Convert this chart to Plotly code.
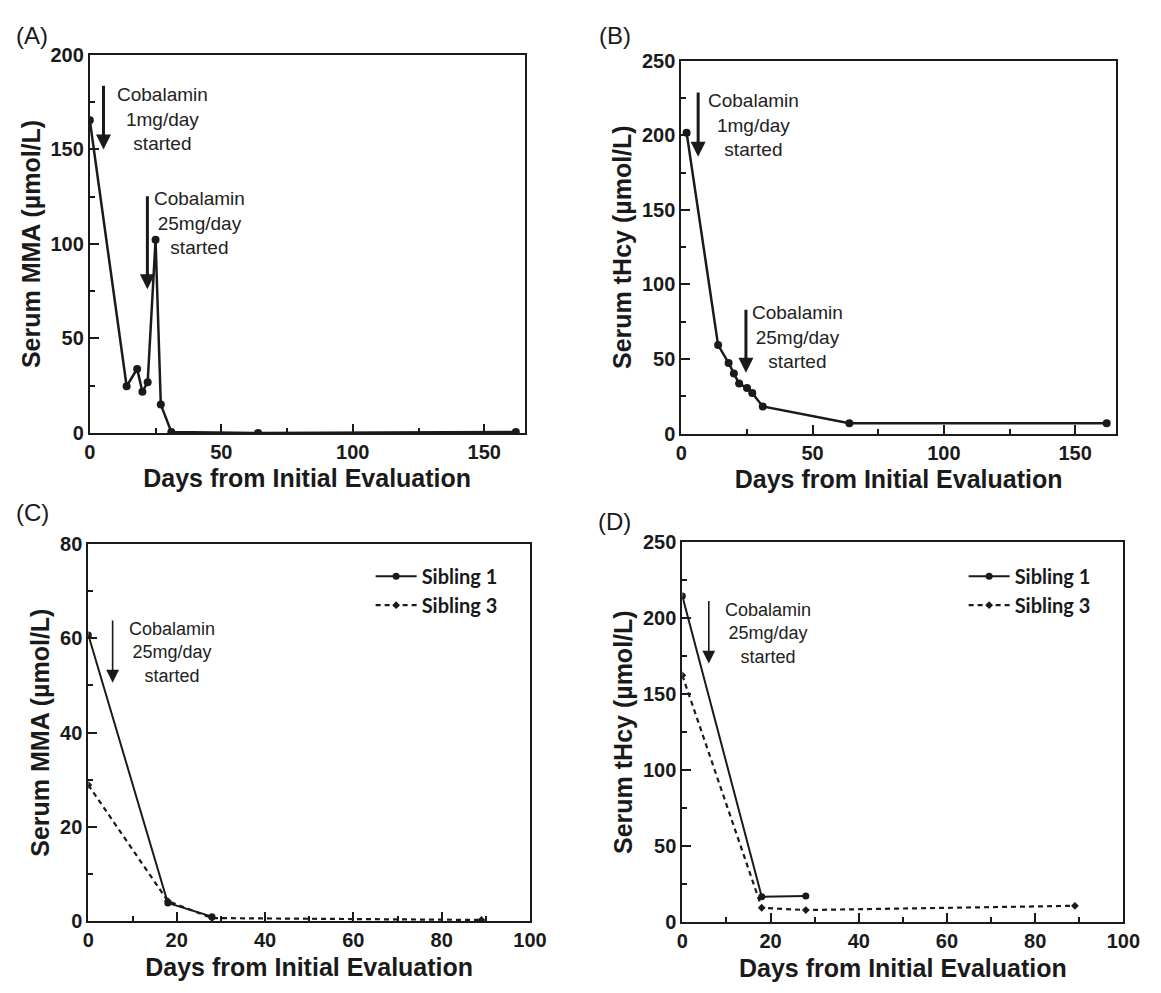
import plotly.graph_objects as go

# ---------------- data ----------------
# Panel A: serum MMA (umol/L), patient
a_days = [0, 14, 18, 20, 22, 25, 27, 31, 64, 162]
a_mma = [165.5, 24.7, 33.9, 21.8, 26.8, 102.2, 15.0, 0.5, 0.0, 0.5]

# Panel B: serum tHcy (umol/L), patient
b_days = [2, 14, 18, 20, 22, 25, 27, 31, 64, 162]
b_thcy = [201.7, 59.4, 47.4, 40.4, 33.6, 30.6, 27.3, 18.3, 7.0, 7.0]

# Panel C: serum MMA, siblings
c_days_s1 = [0, 18, 28]
c_mma_s1 = [60.7, 3.9, 1.0]
c_days_s3 = [0, 18, 28, 89]
c_mma_s3 = [28.9, 4.3, 0.7, 0.3]

# Panel D: serum tHcy, siblings
d_days_s1 = [0, 18, 28]
d_thcy_s1 = [214.6, 16.7, 17.2]
d_days_s3 = [0, 18, 28, 89]
d_thcy_s3 = [162.4, 9.4, 7.9, 10.7]

series_names = ["Sibling 1", "Sibling 3"]
panel_labels = ["(A)", "(B)", "(C)", "(D)"]
x_title = "Days from Initial Evaluation"
y_titles = ["Serum MMA (\u00b5mol/L)", "Serum tHcy (\u00b5mol/L)",
            "Serum MMA (\u00b5mol/L)", "Serum tHcy (\u00b5mol/L)"]

# treatment annotations: (panel, day, arrow top value, arrow tip value, text, text day, text value)
events = [
    (1, 5.2, 184.5, 150.0, "Cobalamin<br>1mg/day<br>started", 27.5, 166.3),
    (1, 21.9, 126.0, 76.0, "Cobalamin<br>25mg/day<br>started", 41.7, 111.0),
    (2, 6.4, 229.7, 185.6, "Cobalamin<br>1mg/day<br>started", 27.3, 206.8),
    (2, 24.6, 84.0, 40.8, "Cobalamin<br>25mg/day<br>started", 44.4, 64.8),
    (3, 5.5, 64.1, 50.6, "Cobalamin<br>25mg/day<br>started", 18.9, 56.9),
    (4, 6.0, 212.4, 170.2, "Cobalamin<br>25mg/day<br>started", 19.4, 189.9),
]

# ---------------- style ----------------
W, H = 1161, 993
INK = "#1a1a1a"
FONT = "Arial, Liberation Sans, Helvetica, sans-serif"
TICKFONT = dict(family=FONT, size=20, color=INK, weight="bold")
TITLEFONT = dict(family=FONT, size=25, color=INK, weight="bold")
LEGFONT = dict(family="Lato, Open Sans, sans-serif", size=20, color=INK, weight="bold")


def px_dom(a, b, total, flip=False):
    if flip:
        return [1 - b / total, 1 - a / total]
    return [a / total, b / total]


def xaxis(domain, rng, dtick, mdtick, anchor):
    return dict(domain=domain, range=rng, dtick=dtick, tick0=0,
                ticks="inside", ticklen=9, tickwidth=2, tickcolor=INK,
                minor=dict(ticks="inside", dtick=mdtick, tick0=0, ticklen=5,
                           tickwidth=2, tickcolor=INK),
                showline=True, linewidth=2, linecolor=INK, mirror=True,
                showgrid=False, zeroline=False, tickfont=TICKFONT,
                title=dict(text=x_title, font=TITLEFONT, standoff=8),
                anchor=anchor, fixedrange=True)


def yaxis(domain, rng, dtick, mdtick, anchor, title):
    return dict(domain=domain, range=rng, dtick=dtick, tick0=0,
                ticks="inside", ticklen=9, tickwidth=2, tickcolor=INK,
                minor=dict(ticks="inside", dtick=mdtick, tick0=0, ticklen=5,
                           tickwidth=2, tickcolor=INK),
                showline=True, linewidth=2, linecolor=INK, mirror=True,
                showgrid=False, zeroline=False, tickfont=TICKFONT,
                title=dict(text=title, font=TITLEFONT, standoff=3),
                anchor=anchor, fixedrange=True)


fig = go.Figure()

fig.add_trace(go.Scatter(x=a_days, y=a_mma, mode="lines+markers", xaxis="x", yaxis="y",
                         line=dict(color=INK, width=2.5), marker=dict(size=8, color=INK),
                         showlegend=False))
fig.add_trace(go.Scatter(x=b_days, y=b_thcy, mode="lines+markers", xaxis="x2", yaxis="y2",
                         line=dict(color=INK, width=2.5), marker=dict(size=8, color=INK),
                         showlegend=False))

fig.add_trace(go.Scatter(x=c_days_s1, y=c_mma_s1, mode="lines+markers", xaxis="x3", yaxis="y3",
                         name=series_names[0], legend="legend",
                         line=dict(color=INK, width=2), marker=dict(size=7, color=INK, symbol="circle")))
fig.add_trace(go.Scatter(x=c_days_s3, y=c_mma_s3, mode="lines+markers", xaxis="x3", yaxis="y3",
                         name=series_names[1], legend="legend",
                         line=dict(color=INK, width=2.2, dash="5px,4px"),
                         marker=dict(size=6, color=INK, symbol="diamond")))

fig.add_trace(go.Scatter(x=d_days_s1, y=d_thcy_s1, mode="lines+markers", xaxis="x4", yaxis="y4",
                         name=series_names[0], legend="legend2",
                         line=dict(color=INK, width=2), marker=dict(size=7, color=INK, symbol="circle")))
fig.add_trace(go.Scatter(x=d_days_s3, y=d_thcy_s3, mode="lines+markers", xaxis="x4", yaxis="y4",
                         name=series_names[1], legend="legend2",
                         line=dict(color=INK, width=2.2, dash="5px,4px"),
                         marker=dict(size=6, color=INK, symbol="diamond")))

annotations = []
for (p, xd, ytop, ytip, txt, tx, ty) in events:
    sfx = "" if p == 1 else str(p)
    thick = p in (1, 2)
    annotations.append(dict(x=xd, y=ytip, ax=xd, ay=ytop, xref="x" + sfx, yref="y" + sfx,
                            axref="x" + sfx, ayref="y" + sfx, text="", showarrow=True,
                            arrowhead=2, arrowsize=1.0 if thick else 1.6,
                            arrowwidth=3 if thick else 1.6, arrowcolor=INK, standoff=0))
    annotations.append(dict(x=tx, y=ty, xref="x" + sfx, yref="y" + sfx, text=txt, showarrow=False,
                            xanchor="center", yanchor="middle", align="center",
                            font=dict(family=FONT, size=19 if thick else 18, color="#222222")))

label_pos = [(27, 25), (621, 25), (27, 513), (621, 522)]
for lab, (lx, ly) in zip(panel_labels, label_pos):
    annotations.append(dict(x=lx / W, y=1 - ly / H, xref="paper", yref="paper", text=lab,
                            showarrow=False, xanchor="center", yanchor="middle",
                            font=dict(family=FONT, size=24, color=INK)))

fig.update_layout(
    width=W, height=H,
    margin=dict(l=0, r=0, t=0, b=0),
    paper_bgcolor="white", plot_bgcolor="white",
    xaxis=xaxis(px_dom(85.5, 529, W), [0, 165.3], 50, 25, "y"),
    yaxis=yaxis(px_dom(45, 431.5, H, True), [0, 200], 50, 25, "x", y_titles[0]),
    xaxis2=xaxis(px_dom(689, 1132.3, W), [0, 165.5], 50, 25, "y2"),
    yaxis2=yaxis(px_dom(50.7, 432.3, H, True), [0, 250], 50, 25, "x2", y_titles[1]),
    xaxis3=xaxis(px_dom(84, 534.6, W), [0, 100], 20, 10, "y3"),
    yaxis3=yaxis(px_dom(545, 931, H, True), [0, 80], 20, 10, "x3", y_titles[2]),
    xaxis4=xaxis(px_dom(690, 1140, W), [0, 100], 20, 10, "y4"),
    yaxis4=yaxis(px_dom(543.3, 931.7, H, True), [0, 250], 50, 25, "x4", y_titles[3]),
    legend=dict(x=372 / W, y=1 - 558 / H, xanchor="left", yanchor="top", font=LEGFONT,
                bgcolor="rgba(0,0,0,0)", itemwidth=41, tracegroupgap=0),
    legend2=dict(x=977 / W, y=1 - 558 / H, xanchor="left", yanchor="top", font=LEGFONT,
                 bgcolor="rgba(0,0,0,0)", itemwidth=41, tracegroupgap=0),
    annotations=annotations,
    showlegend=True,
)

fig.write_html(
    "out.html",
    config={"displayModeBar": False, "staticPlot": False},
    post_script="document.body.style.margin='0';document.body.style.overflow='hidden';",
)
